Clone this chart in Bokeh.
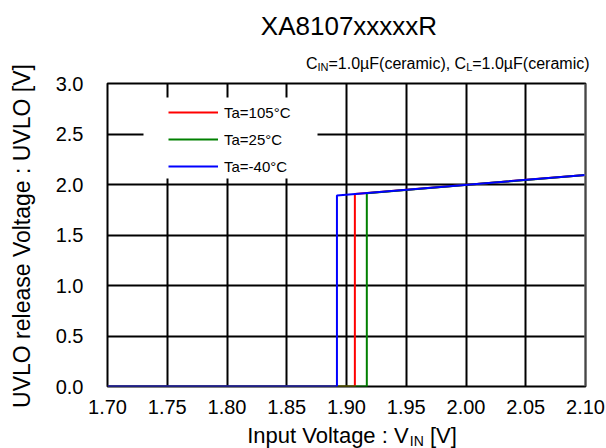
import math
from bokeh.plotting import figure
from bokeh.layouts import row, column
from bokeh.models import (Range1d, FixedTicker, Label, BoxAnnotation, Span, Legend)
from bokeh.embed import file_html
from bokeh.resources import INLINE

# ---------------- data ----------------
x_ticks = [1.70, 1.75, 1.80, 1.85, 1.90, 1.95, 2.00, 2.05, 2.10]
x_tick_labels = ["1.70", "1.75", "1.80", "1.85", "1.90", "1.95", "2.00", "2.05", "2.10"]
y_ticks = [0.0, 0.5, 1.0, 1.5, 2.0, 2.5, 3.0]
y_tick_labels = ["0.0", "0.5", "1.0", "1.5", "2.0", "2.5", "3.0"]

series_names = ["Ta=105°C", "Ta=25°C", "Ta=-40°C"]
series_colors = ["#ff0000", "#008000", "#0000ff"]

vin_105 = [1.70, 1.907, 1.907, 2.10]
uvlo_105 = [0.0, 0.0, 1.905, 2.095]
vin_25 = [1.70, 1.917, 1.917, 2.10]
uvlo_25 = [0.0, 0.0, 1.913, 2.095]
vin_m40 = [1.70, 1.892, 1.892, 2.10]
uvlo_m40 = [0.0, 0.0, 1.890, 2.095]

title_text = "XA8107xxxxxR"
y_label_text = "UVLO release Voltage : UVLO [V]"
subtitle_parts = [("C", False), ("IN", True), ("=1.0µF(ceramic), C", False), ("L", True), ("=1.0µF(ceramic)", False)]
xlabel_parts = [("Input Voltage : V", False), ("IN", True), (" [V]", False)]

FONT = "Liberation Sans"

# Arial / Liberation Sans advance widths (per 1000 em)
AW = {"C": 722, "I": 278, "N": 722, "L": 556, "=": 584, "1": 556, ".": 278, "0": 556,
      "µ": 576, "F": 611, "(": 333, ")": 333, "c": 500, "e": 556, "r": 333, "a": 556,
      "m": 833, "i": 222, ",": 278, " ": 278, "n": 556, "p": 556, "u": 556, "t": 278,
      "V": 667, "o": 556, "l": 222, "g": 556, ":": 278, "[": 278, "]": 278}


def text_w(s, size):
    return sum(AW.get(ch, 556) for ch in s) / 1000.0 * size


def rich_width(parts, main_size, sub_size):
    return sum(text_w(t, sub_size if s else main_size) for t, s in parts)


# the label anchor ends up at the middle of the text box: baseline sits 0.35 em below it
BASE_SHIFT = 0.35

# ---------------- page layout (absolute pixels) ----------------
W, H = 606, 448
LW = 40            # left strip holding the y-axis title
TH = 74            # top strip holding title + subtitle
BH = 26            # bottom strip holding the x-axis title
MW, MH = W - LW, H - TH - BH
FL, FR, FT, FB = 107, 585, 83, 386   # frame edges of the chart


def text_fig(w, h):
    f = figure(width=w, height=h, output_backend="svg", toolbar_location=None,
               x_range=Range1d(0, 1), y_range=Range1d(0, 1),
               x_axis_location=None, y_axis_location=None, min_border=0,
               frame_align=False)
    f.outline_line_color = None
    f.background_fill_color = "white"
    f.border_fill_color = "white"
    f.grid.visible = False
    return f


def put(fig, ox, oy, h, X, Y, txt, size, align="left", angle=0.0):
    fig.add_layout(Label(x=X - ox, y=(oy + h) - Y, x_units="screen", y_units="screen",
                         text=txt, text_font=FONT, text_font_size=f"{size}px",
                         text_align=align, text_baseline="alphabetic",
                         angle=angle, text_color="black"))


def put_rich(fig, ox, oy, h, parts, main_size, sub_size, x_start, base_y, sub_drop):
    x = x_start
    for txt, sub in parts:
        size = sub_size if sub else main_size
        yb = base_y + (sub_drop if sub else 0)
        lead = len(txt) - len(txt.lstrip(" "))
        x += text_w(" " * lead, size)          # leading blanks become an explicit gap
        body = txt.lstrip(" ")
        put(fig, ox, oy, h, x, yb - BASE_SHIFT * size, body, size)
        x += text_w(body, size)


# ---- main chart ----
p = figure(width=MW, height=MH, output_backend="svg", toolbar_location=None,
           x_range=Range1d(x_ticks[0], x_ticks[-1]), y_range=Range1d(y_ticks[0], y_ticks[-1]),
           min_border_left=FL - LW, min_border_right=W - FR,
           min_border_top=FT - TH, min_border_bottom=(TH + MH) - FB,
           frame_align=False)
p.background_fill_color = "white"
p.border_fill_color = "white"
p.outline_line_color = "black"
p.outline_line_width = 2

p.xaxis.ticker = FixedTicker(ticks=x_ticks)
p.xaxis.major_label_overrides = dict(zip(x_ticks, x_tick_labels))
p.yaxis.ticker = FixedTicker(ticks=y_ticks)
p.yaxis.major_label_overrides = dict(zip(y_ticks, y_tick_labels))
for ax in (p.xaxis[0], p.yaxis[0]):
    ax.axis_line_color = None
    ax.major_tick_line_color = None
    ax.minor_tick_line_color = None
    ax.major_tick_out = 0
    ax.major_tick_in = 0
    ax.major_label_text_font = FONT
    ax.major_label_text_font_size = "20px"
    ax.major_label_text_color = "black"
p.xaxis.major_label_standoff = 13
p.yaxis.major_label_standoff = 24

p.xgrid.ticker = FixedTicker(ticks=x_ticks)
p.ygrid.ticker = FixedTicker(ticks=y_ticks)
for g in (p.xgrid[0], p.ygrid[0]):
    g.grid_line_color = "black"
    g.grid_line_width = 2

# white patch behind the legend (interrupts the grid as in the reference)
legend_bg = BoxAnnotation(left=143 - FL, right=317 - FL, bottom=FB - 178, top=FB - 97,
                          left_units="screen", right_units="screen",
                          top_units="screen", bottom_units="screen",
                          fill_color="white", fill_alpha=1.0, line_color=None, level="underlay")
p.add_layout(legend_bg)

# right frame edge is grey in the reference
p.add_layout(Span(location=x_ticks[-1], dimension="height", line_color="#8c8c8c",
                  line_width=2, level="overlay"))

r105 = p.line(vin_105, uvlo_105, line_color=series_colors[0], line_width=2)
r25 = p.line(vin_25, uvlo_25, line_color=series_colors[1], line_width=2)
rm40 = p.line(vin_m40, uvlo_m40, line_color=series_colors[2], line_width=2)

legend = Legend(items=[(series_names[0], [r105]), (series_names[1], [r25]), (series_names[2], [rm40])],
                location=(168 - FL, FB - 176), orientation="vertical",
                background_fill_alpha=0.0, border_line_color=None,
                padding=0, margin=0, spacing=7, glyph_width=50, glyph_height=20,
                label_height=20, label_standoff=6,
                label_text_font=FONT, label_text_font_size="15px", label_text_color="black")
p.add_layout(legend, "center")

# ---- top strip: title and subtitle ----
top = text_fig(MW, TH)
put(top, LW, 0, TH, 348.5, 35 - BASE_SHIFT * 26, title_text, 26, align="center")
sw = rich_width(subtitle_parts, 16, 11)
put_rich(top, LW, 0, TH, subtitle_parts, 16, 11, 589 - sw, 68.5, 2)

# ---- bottom strip: x-axis title ----
bottom = text_fig(MW, BH)
xw = rich_width(xlabel_parts, 22, 14)
put_rich(bottom, LW, TH + MH, BH, xlabel_parts, 22, 14, 351.5 - xw / 2, 442.5, 3)

# ---- left strip: y-axis title (rotated; baseline at x ~ 29.5) ----
left = text_fig(LW, H)
put(left, 0, 0, H, 29.5 - BASE_SHIFT * 23, 235.5, y_label_text, 23, align="center", angle=math.pi / 2)

layout = row(left, column(top, p, bottom, spacing=0), spacing=0)

open("out.html", "w").write(file_html(layout, INLINE))
